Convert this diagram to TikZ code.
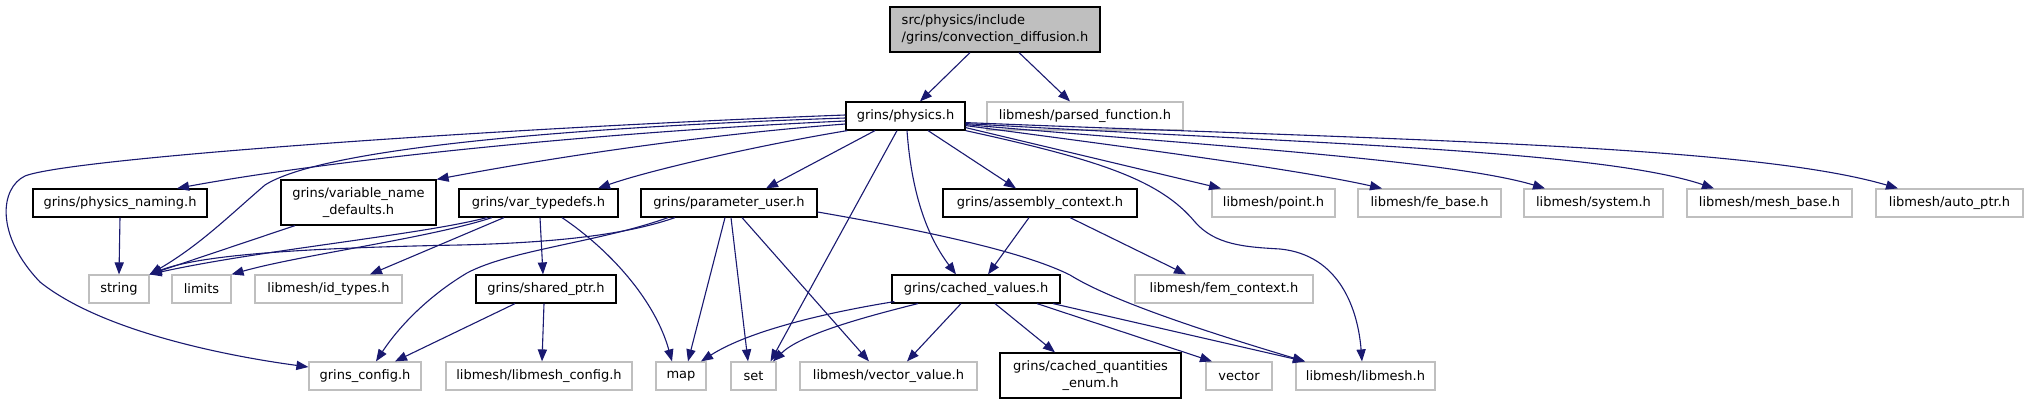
\documentclass[tikz,border=0pt]{standalone}
\usepackage{fontspec}
\setmainfont{DejaVu Sans}
\usetikzlibrary{arrows.meta, calc}
\definecolor{edgeblue}{RGB}{25, 25, 112}
\definecolor{sysgray}{RGB}{191, 191, 191}
\tikzset{
  file/.style={draw=black, line width=0.6pt, fill=white, minimum height=14pt,
    inner sep=1pt, font=\fontsize{6.5}{8.2}\selectfont},
  sysfile/.style={file, draw=sysgray},
  rootfile/.style={file, fill=sysgray},
  dep/.style={edgeblue, line width=0.55pt, -{Triangle[length=6pt,width=4.6pt]}}
}
\begin{document}
\begin{tikzpicture}[x=0.5pt, y=-0.5pt]
  \useasboundingbox (0,0) rectangle (2028,405);

  % 顶层文件
  \node[rootfile, minimum width=105pt, minimum height=22.5pt, align=left] (root) at (995,29.5)
    {src/physics/include\\/grins/convection\_diffusion.h};
  \node[file, minimum width=59.5pt] (phys) at (905.5,116) {grins/physics.h};
  \node[sysfile, minimum width=98pt] (parsed) at (1085,116) {libmesh/parsed\_function.h};

  % 第三层
  \node[file, minimum width=87pt] (pnaming) at (120,203) {grins/physics\_naming.h};
  \node[file, minimum width=77.5pt, minimum height=22.5pt, align=center] (varname) at (358.5,202.5)
    {grins/variable\_name\\\_defaults.h};
  \node[file, minimum width=79.5pt] (vartd) at (538.5,203) {grins/var\_typedefs.h};
  \node[file, minimum width=88pt] (puser) at (729,203) {grins/parameter\_user.h};
  \node[file, minimum width=97pt] (asmctx) at (1040,203) {grins/assembly\_context.h};
  \node[sysfile, minimum width=61.5pt] (point) at (1273.5,203) {libmesh/point.h};
  \node[sysfile, minimum width=71.5pt] (febase) at (1429.5,203) {libmesh/fe\_base.h};
  \node[sysfile, minimum width=69.5pt] (system) at (1593.5,203) {libmesh/system.h};
  \node[sysfile, minimum width=82.5pt] (meshbase) at (1769.5,203) {libmesh/mesh\_base.h};
  \node[sysfile, minimum width=73.5pt] (autoptr) at (1949.5,203) {libmesh/auto\_ptr.h};

  % 第四层
  \node[sysfile, minimum width=30pt] (string) at (119,289) {string};
  \node[sysfile, minimum width=29.5pt] (limits) at (201.5,289) {limits};
  \node[sysfile, minimum width=73.5pt] (idtypes) at (328.5,289) {libmesh/id\_types.h};
  \node[file, minimum width=70pt] (shptr) at (546,289) {grins/shared\_ptr.h};
  \node[file, minimum width=84pt] (cvals) at (976,289) {grins/cached\_values.h};
  \node[sysfile, minimum width=89pt] (femctx) at (1224,289) {libmesh/fem\_context.h};

  % 底层
  \node[sysfile, minimum width=56pt] (gcfg) at (365,376) {grins\_config.h};
  \node[sysfile, minimum width=93pt] (lmcfg) at (539,376) {libmesh/libmesh\_config.h};
  \node[sysfile, minimum width=25pt] (map) at (681,376) {map};
  \node[sysfile, minimum width=22.5pt] (set) at (753.5,376) {set};
  \node[sysfile, minimum width=88.5pt] (vecval) at (888.5,376) {libmesh/vector\_value.h};
  \node[file, minimum width=90.5pt, minimum height=22.5pt, align=center] (cqenum) at (1090.5,375.5)
    {grins/cached\_quantities\\\_enum.h};
  \node[sysfile, minimum width=33pt] (vector) at (1239,376) {vector};
  \node[sysfile, minimum width=69.5pt] (libmesh) at (1365.5,376) {libmesh/libmesh.h};

  % 顶层依赖
  \draw[dep] ($(root.south)+(-25,0)$) -- ($(phys.north)+(14.5,0)$);
  \draw[dep] ($(root.south)+(24,0)$) -- ($(parsed.north)+(-15,0)$);

  % physics.h 向左
  \draw[dep] ($(phys.west)+(0,-1)$) .. controls (500,128) and (70,158) .. (25,176)
    .. controls (0,188) and (-5,235) .. (40,282)
    .. controls (100,330) and (220,355) .. ($(gcfg.west)+(0,-9)$);
  \draw[dep] ($(phys.west)+(0,2)$) .. controls (550,128) and (320,150) .. (265,185)
    .. controls (230,215) and (200,245) .. (string.north east);
  \draw[dep] ($(phys.west)+(0,5)$) .. controls (600,132) and (330,160) .. ($(pnaming.north)+(57,0)$);
  \draw[dep] ($(phys.west)+(0,8)$) .. controls (700,135) and (550,158) .. (varname.north east);
  \draw[dep] ($(phys.south west)+(2,0)$) .. controls (760,145) and (650,170) .. ($(vartd.north)+(59.5,0)$);
  \draw[dep] ($(phys.south)+(-30.5,0)$) -- ($(puser.north)+(37,0)$);
  \draw[dep] ($(phys.south)+(-8.5,0)$) -- ($(set.north)+(17,0)$);
  \draw[dep] ($(phys.south)+(1.5,0)$) .. controls (912,200) and (930,240) .. ($(cvals.north)+(-20,0)$);
  \draw[dep] ($(phys.south)+(22.5,0)$) -- ($(asmctx.north)+(-24,0)$);

  % physics.h 向右
  \draw[dep] ($(phys.south east)+(0,-3)$) -- ($(point.north)+(-52.5,0)$);
  \draw[dep] ($(phys.south east)+(0,-5)$) .. controls (1150,150) and (1300,170) .. ($(febase.north)+(-47.5,0)$);
  \draw[dep] ($(phys.south east)+(0,-6)$) .. controls (1200,145) and (1450,160) .. ($(system.north)+(-48.5,0)$);
  \draw[dep] ($(phys.south east)+(0,-7)$) .. controls (1300,143) and (1600,150) .. ($(meshbase.north)+(-55.5,0)$);
  \draw[dep] ($(phys.south east)+(0,-8)$) .. controls (1400,140) and (1750,145) .. ($(autoptr.north)+(-51.5,0)$);
  \draw[dep] (phys.south east) .. controls (1100,160) and (1160,180) .. (1195,222)
    .. controls (1215,245) and (1245,247) .. (1280,249)
    .. controls (1340,255) and (1358,310) .. ($(libmesh.north)+(-3.5,0)$);

  % 第三层依赖
  \draw[dep] (pnaming.south) -- (string.north);
  \draw[dep] ($(varname.south)+(-63.5,0)$) -- (string.north east);
  \draw[dep] ($(vartd.south)+(-51.5,0)$) .. controls (420,235) and (260,250) .. (string.north east);
  \draw[dep] ($(vartd.south)+(-46.5,0)$) .. controls (430,238) and (300,255) .. (limits.north east);
  \draw[dep] ($(vartd.south)+(-34.5,0)$) -- ($(idtypes.north)+(41.5,0)$);
  \draw[dep] ($(vartd.south)+(1.5,0)$) -- ($(shptr.north)+(-3,0)$);
  \draw[dep] ($(vartd.south)+(23.5,0)$) .. controls (610,250) and (655,300) .. ($(map.north)+(-9,0)$);

  \draw[dep] ($(puser.south)+(-54,0)$) .. controls (620,237) and (540,243) .. (460,245)
    .. controls (300,248) and (200,255) .. (string.north east);
  \draw[dep] ($(puser.south)+(-61,0)$) .. controls (600,242) and (510,250) .. (467,273)
    .. controls (430,295) and (400,325) .. ($(gcfg.north)+(11,0)$);
  \draw[dep] ($(puser.south)+(-4,0)$) -- ($(map.north)+(7,0)$);
  \draw[dep] ($(puser.south)+(2,0)$) -- ($(set.north)+(-5.5,0)$);
  \draw[dep] ($(puser.south)+(13,0)$) -- ($(vecval.north)+(-19.5,0)$);
  \draw[dep] ($(puser.east)+(0,9)$) .. controls (950,235) and (1030,255) .. (1070,275)
    .. controls (1110,300) and (1200,330) .. ($(libmesh.north)+(-60.5,0)$);

  \draw[dep] ($(asmctx.south)+(-11,0)$) -- ($(cvals.north)+(12,0)$);
  \draw[dep] ($(asmctx.south)+(30,0)$) -- ($(femctx.north)+(-38,0)$);

  % 第四层依赖
  \draw[dep] ($(shptr.south)+(-31,0)$) -- ($(gcfg.north)+(30,0)$);
  \draw[dep] ($(shptr.south)+(-2,0)$) -- ($(lmcfg.north)+(3,0)$);

  \draw[dep] ($(cvals.south west)+(3,-2)$) .. controls (830,312) and (750,330) .. ($(map.north)+(20,0)$);
  \draw[dep] ($(cvals.south)+(-58,0)$) .. controls (860,318) and (800,335) .. ($(set.north)+(19.5,0)$);
  \draw[dep] ($(cvals.south)+(-15,0)$) -- ($(vecval.north)+(18.5,0)$);
  \draw[dep] ($(cvals.south)+(19,0)$) -- ($(cqenum.north)+(-35.5,0)$);
  \draw[dep] ($(cvals.south)+(61,0)$) -- ($(vector.north)+(-27,0)$);
  \draw[dep] ($(cvals.south)+(77,0)$) -- ($(libmesh.north)+(-60.5,0)$);
\end{tikzpicture}
\end{document}
